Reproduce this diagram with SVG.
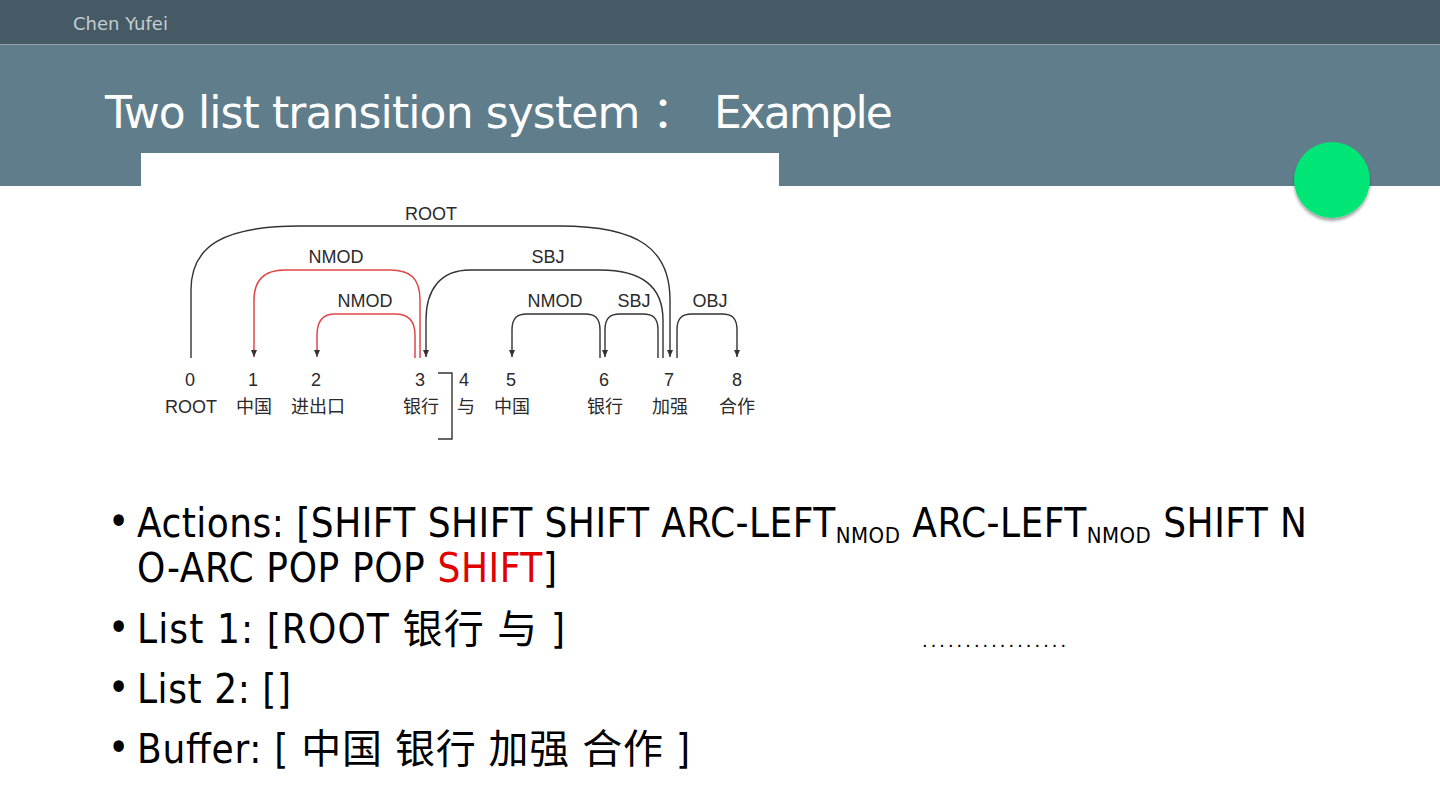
<svg xmlns="http://www.w3.org/2000/svg" width="1440" height="810" viewBox="0 0 1440 810">
<defs>
<style>
.lbl{font-family:"Liberation Sans",Arial,sans-serif;font-size:18px;fill:#2a2a2a;text-anchor:middle}
.tok{font-family:"Liberation Sans","Noto Sans CJK SC",sans-serif;font-size:18px;fill:#2a2a2a;text-anchor:middle}
.arc{fill:none;stroke:#333;stroke-width:1.4}
.red{fill:none;stroke:#e04848;stroke-width:1.5}
.bul{font-family:"Liberation Sans Narrow","DejaVu Sans Condensed","Noto Sans CJK SC",sans-serif;font-size:40px;fill:#000}
.sub{font-size:22px}
</style>
<marker id="ah" markerWidth="8" markerHeight="8" refX="7" refY="4" orient="auto" markerUnits="userSpaceOnUse">
<path d="M0,1 L7,4 L0,7 z" fill="#333"/>
</marker>
<filter id="sh" x="-30%" y="-30%" width="160%" height="170%">
<feDropShadow dx="0" dy="3" stdDeviation="1.5" flood-color="#000" flood-opacity="0.35"/>
</filter>
</defs>
<rect x="0" y="0" width="1440" height="810" fill="#fff"/>
<rect x="0" y="0" width="1440" height="44" fill="#455a64"/>
<rect x="0" y="44" width="1440" height="142" fill="#607d8b"/>
<line x1="0" y1="44.5" x2="1440" y2="44.5" stroke="#8ea3ad" stroke-width="1"/>
<text x="73" y="30" font-family="DejaVu Sans,sans-serif" font-size="18" fill="#c3ccd1">Chen Yufei</text>
<text x="105" y="128" font-family="DejaVu Sans,'Noto Sans CJK SC',sans-serif" font-size="44" fill="#fff"><tspan letter-spacing="-0.9">Two list transition system</tspan><tspan x="652" font-family="'Noto Sans CJK SC',sans-serif">：</tspan><tspan x="714" letter-spacing="-2">Example</tspan></text>
<g id="green-dot"><circle cx="1332" cy="180" r="38" fill="#00e676" filter="url(#sh)"/></g>
<rect x="141" y="153" width="638" height="300" fill="#fff"/>
<g id="connectors">
<path class="arc" d="M191,358 V290 C191,245 225,226 300,226 H560 C640,226 670,250 670,300 V357" marker-end="url(#ah)"/>
<path class="red" d="M420,358 V300 C420,278 410,270 390,270 H285 C265,270 254,280 254,300 V357" marker-end="url(#ah)"/>
<path class="red" d="M415,358 V335 C415,320 408,314 395,314 H335 C322,314 317,322 317,335 V357" marker-end="url(#ah)"/>
<path class="arc" d="M663,358 V320 C663,285 640,270 600,270 H470 C440,270 426,290 426,320 V357" marker-end="url(#ah)"/>
<path class="arc" d="M600,358 V330 C600,318 595,314 585,314 H527 C517,314 512,318 512,330 V357" marker-end="url(#ah)"/>
<path class="arc" d="M658,358 V330 C658,318 653,314 643,314 H620 C610,314 605,318 605,330 V357" marker-end="url(#ah)"/>
<path class="arc" d="M677,358 V330 C677,318 682,314 692,314 H722 C732,314 737,318 737,330 V357" marker-end="url(#ah)"/>
<path class="arc" d="M438,373 H452 V439 H438" stroke-width="1.2"/>
</g>
<g id="arc-labels">
<text class="lbl" x="431" y="220">ROOT</text>
<text class="lbl" x="336" y="263">NMOD</text>
<text class="lbl" x="548" y="263">SBJ</text>
<text class="lbl" x="365" y="307">NMOD</text>
<text class="lbl" x="555" y="307">NMOD</text>
<text class="lbl" x="634" y="307">SBJ</text>
<text class="lbl" x="710" y="307">OBJ</text>
</g>
<g id="t0"><text class="tok" x="190" y="386">0</text><text class="tok" x="191" y="413">ROOT</text></g>
<g id="t1"><text class="tok" x="253" y="386">1</text><text class="tok" x="254" y="413">中国</text></g>
<g id="t2"><text class="tok" x="316" y="386">2</text><text class="tok" x="318" y="413">进出口</text></g>
<g id="t3"><text class="tok" x="420" y="386">3</text><text class="tok" x="421" y="413">银行</text></g>
<g id="t4"><text class="tok" x="464" y="386">4</text><text class="tok" x="466" y="413">与</text></g>
<g id="t5"><text class="tok" x="511" y="386">5</text><text class="tok" x="512" y="413">中国</text></g>
<g id="t6"><text class="tok" x="604" y="386">6</text><text class="tok" x="605" y="413">银行</text></g>
<g id="t7"><text class="tok" x="669" y="386">7</text><text class="tok" x="670" y="413">加强</text></g>
<g id="t8"><text class="tok" x="737" y="386">8</text><text class="tok" x="737" y="413">合作</text></g>
<g id="bullets">
<text class="bul" x="108" y="535">•</text>
<text class="bul" x="137" y="537" textLength="1170">Actions: [SHIFT SHIFT SHIFT ARC-LEFT<tspan class="sub" dy="6">NMOD</tspan><tspan dy="-6"> ARC-LEFT</tspan><tspan class="sub" dy="6">NMOD</tspan><tspan dy="-6"> SHIFT N</tspan></text>
<text class="bul" x="137" y="582" textLength="420">O-ARC POP POP <tspan fill="#e00000">SHIFT</tspan>]</text>
<text class="bul" x="108" y="641">•</text>
<text class="bul" x="137" y="643" textLength="428">List 1: [ROOT  银行 与 ]</text>
<text class="bul" x="108" y="701">•</text>
<text class="bul" x="137" y="703" textLength="154">List 2: []</text>
<text class="bul" x="108" y="761">•</text>
<text class="bul" x="137" y="763" textLength="553">Buffer: [ 中国 银行 加强 合作 ]</text>
</g>
<text x="922" y="647" font-family="Liberation Sans,sans-serif" font-size="20" textLength="144" lengthAdjust="spacing">.................</text>
</svg>
